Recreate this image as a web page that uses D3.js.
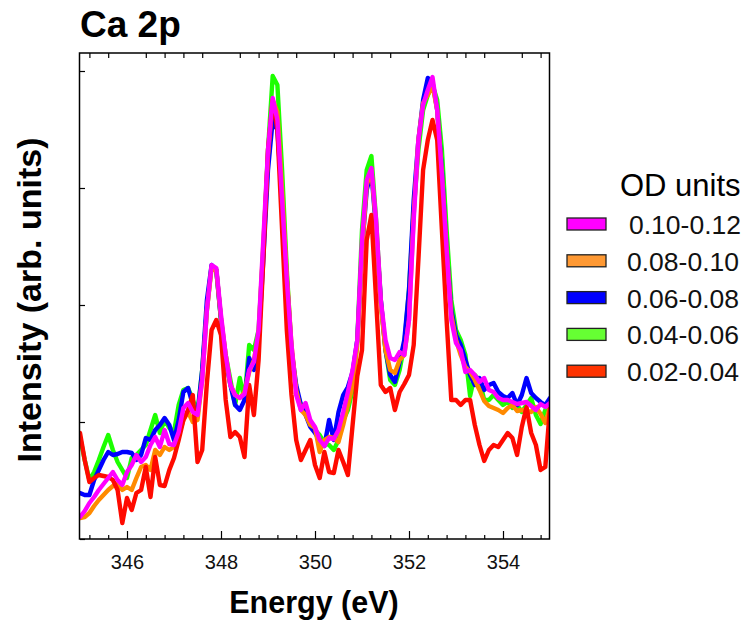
<!DOCTYPE html>
<html>
<head>
<meta charset="utf-8">
<script src="https://cdn.jsdelivr.net/npm/d3@7"></script>
<style>
  body { margin: 0; background: #fff; }
  svg { font-family: "Liberation Sans", Arial, Helvetica, sans-serif; }
</style>
</head>
<body>
<svg id="chart" width="746" height="627"></svg>
<script>
// energy grid, 0.1 eV steps from 345 to 355
const energy = d3.range(101).map(i => +(345 + i * 0.1).toFixed(1));

const xMajorTicks = [346, 348, 350, 352, 354];
const yTickValues = [0, 117, 234, 351, 468];

const seriesNames = ['0.10-0.12', '0.08-0.10', '0.06-0.08', '0.04-0.06', '0.02-0.04'];

// intensities (arb. units)
const od0406 = [102,79,59,67,79,92,104,89,77,69,61,81,84,89,94,109,124,106,119,111,
  107,134,149,151,139,127,169,229,273,269,219,184,159,134,161,139,194,189,209,289,
  389,463,454,369,269,189,149,134,129,114,109,104,96,94,89,99,119,129,149,199,
  309,369,383,319,239,189,159,154,169,194,249,329,389,429,444,454,439,389,309,239,
  209,199,184,143,164,159,139,139,144,139,134,137,131,134,127,134,141,124,115,129,139];

const od0608 = [46,44,44,59,69,79,87,84,85,87,87,86,79,84,101,99,109,114,121,114,
  99,119,147,151,134,124,169,239,274,269,219,179,154,134,129,139,181,169,199,279,
  369,419,409,339,259,189,154,134,124,112,106,99,93,119,99,127,144,152,167,199,
  289,349,367,309,239,189,164,157,177,199,249,339,399,439,461,457,429,369,289,229,
  204,194,179,164,154,161,149,154,156,147,143,141,146,134,144,161,146,141,137,134,141];

const od0810 = [21,22,26,33,39,44,49,53,55,49,52,49,61,72,74,69,89,84,92,89,
  92,104,119,127,117,119,159,229,271,269,221,184,154,144,141,147,167,179,204,294,
  384,439,427,349,264,194,149,129,124,114,111,87,99,102,101,97,114,134,154,194,
  289,354,369,314,234,189,169,166,179,184,219,324,399,436,444,454,429,364,289,224,
  199,184,172,167,159,149,138,133,131,129,126,131,134,128,129,128,127,132,125,116,132];

const od0204 = [106,79,57,61,64,63,62,59,49,16,41,29,46,49,72,42,82,54,53,69,
  81,99,119,129,144,77,89,156,209,219,204,139,102,107,102,82,154,124,179,279,
  389,439,409,309,209,144,99,79,89,99,74,61,87,67,66,89,77,64,114,163,
  189,299,324,239,154,147,151,129,147,155,164,194,279,369,399,419,399,309,219,139,
  139,134,139,139,114,94,78,89,94,92,99,106,101,84,112,132,106,94,69,72,132];

const od1012 = [22,28,36,42,49,55,61,67,59,54,67,74,84,77,82,94,102,92,109,95,
  94,107,131,136,127,124,159,229,274,271,224,184,154,144,141,145,169,177,209,299,
  389,441,419,339,259,194,144,129,136,119,112,99,93,101,100,109,127,147,169,199,
  299,359,371,319,239,199,181,179,187,184,219,319,399,434,449,462,429,364,289,219,
  196,189,167,169,164,157,161,149,147,141,139,139,137,135,136,137,133,129,135,132,136];

// drawing order: first drawn sits underneath
const series = [
  { name: '0.04-0.06', values: od0406, line: '#1cff00', swatch: '#66ff33' },
  { name: '0.06-0.08', values: od0608, line: '#0000ff', swatch: '#0000ff' },
  { name: '0.08-0.10', values: od0810, line: '#ff8a00', swatch: '#ff9933' },
  { name: '0.02-0.04', values: od0204, line: '#ff0a00', swatch: '#ff3300' },
  { name: '0.10-0.12', values: od1012, line: '#ff00ff', swatch: '#ff00ff' }
];

const svg = d3.select('#chart');

const plot = { left: 80, right: 550, top: 53, bottom: 539 };

const x = d3.scaleLinear().domain([345, 355]).range([plot.left, plot.right]);
const y = d3.scaleLinear().domain([0, 486]).range([plot.bottom, plot.top]);

svg.append('defs').append('clipPath').attr('id', 'plot-clip')
  .append('rect')
  .attr('x', plot.left).attr('y', plot.top)
  .attr('width', plot.right - plot.left).attr('height', plot.bottom - plot.top);

const line = d3.line()
  .x((d, i) => x(energy[i]))
  .y(d => y(d));

const lines = svg.append('g').attr('clip-path', 'url(#plot-clip)');
series.forEach(s => {
  lines.append('path')
    .datum(s.values)
    .attr('d', line)
    .attr('fill', 'none')
    .attr('stroke', s.line)
    .attr('stroke-width', 4.4)
    .attr('stroke-linejoin', 'round')
    .attr('stroke-linecap', 'round');
});

// minor ticks every 0.4 eV
const minorTicks = d3.range(345.2, 355, 0.4).map(v => +v.toFixed(1))
  .filter(v => !xMajorTicks.includes(v));

const bottomAxis = d3.axisBottom(x)
  .tickValues(xMajorTicks)
  .tickSize(-8)
  .tickPadding(16)
  .tickFormat(d3.format('d'));

const gx = svg.append('g')
  .attr('transform', `translate(0,${plot.bottom})`)
  .call(bottomAxis);
gx.select('.domain').remove();
gx.selectAll('.tick line').attr('stroke', '#000').attr('stroke-width', 1.2);
gx.selectAll('.tick text')
  .attr('font-size', 20)
  .attr('font-family', '"Liberation Sans", Arial, sans-serif')
  .attr('fill', '#111');

const gxMinor = svg.append('g')
  .attr('transform', `translate(0,${plot.bottom})`)
  .call(d3.axisBottom(x).tickValues(minorTicks).tickSize(-4).tickFormat(''));
gxMinor.select('.domain').remove();
gxMinor.selectAll('.tick line').attr('stroke-width', 1.2);

const gxTop = svg.append('g')
  .attr('transform', `translate(0,${plot.top})`)
  .call(d3.axisTop(x).tickValues(minorTicks).tickSize(-5).tickFormat(''));
gxTop.select('.domain').remove();
gxTop.selectAll('.tick line').attr('stroke-width', 1.2);

const gyLeft = svg.append('g')
  .attr('transform', `translate(${plot.left},0)`)
  .call(d3.axisLeft(y).tickValues(yTickValues).tickSize(-5).tickFormat(''));
gyLeft.select('.domain').remove();
gyLeft.selectAll('.tick line').attr('stroke-width', 1.2);

// frame
svg.append('rect')
  .attr('x', plot.left - 0.5)
  .attr('y', plot.top)
  .attr('width', plot.right - plot.left)
  .attr('height', plot.bottom - plot.top)
  .attr('fill', 'none')
  .attr('stroke', '#000')
  .attr('stroke-width', 1.5);

// title and axis labels
svg.append('text')
  .attr('x', 80)
  .attr('y', 37)
  .attr('font-size', 37)
  .attr('font-weight', 'bold')
  .text('Ca 2p');

svg.append('text')
  .attr('x', 314)
  .attr('y', 613)
  .attr('text-anchor', 'middle')
  .attr('font-size', 30.5)
  .attr('font-weight', 'bold')
  .text('Energy (eV)');

svg.append('text')
  .attr('transform', 'translate(41,300) rotate(-90)')
  .attr('text-anchor', 'middle')
  .attr('font-size', 34)
  .attr('font-weight', 'bold')
  .text('Intensity (arb. units)');

// legend
const legend = svg.append('g').attr('transform', 'translate(567,0)');

legend.append('text')
  .attr('x', 53)
  .attr('y', 196)
  .attr('font-size', 31)
  .text('OD units');

const legendItems = seriesNames.map(n => series.find(s => s.name === n));

legend.selectAll('rect.swatch')
  .data(legendItems)
  .join('rect')
  .attr('class', 'swatch')
  .attr('x', 0)
  .attr('y', (d, i) => 218 + i * 36.8)
  .attr('width', 39)
  .attr('height', 12)
  .attr('fill', d => d.swatch)
  .attr('stroke', '#222')
  .attr('stroke-width', 1.3);

legend.selectAll('text.label')
  .data(legendItems)
  .join('text')
  .attr('class', 'label')
  .attr('x', (d, i) => i === 0 ? 62 : 60)
  .attr('y', (d, i) => 234 + i * 36.8)
  .attr('font-size', 26.5)
  .attr('fill', '#111')
  .text(d => d.name);
</script>
</body>
</html>
